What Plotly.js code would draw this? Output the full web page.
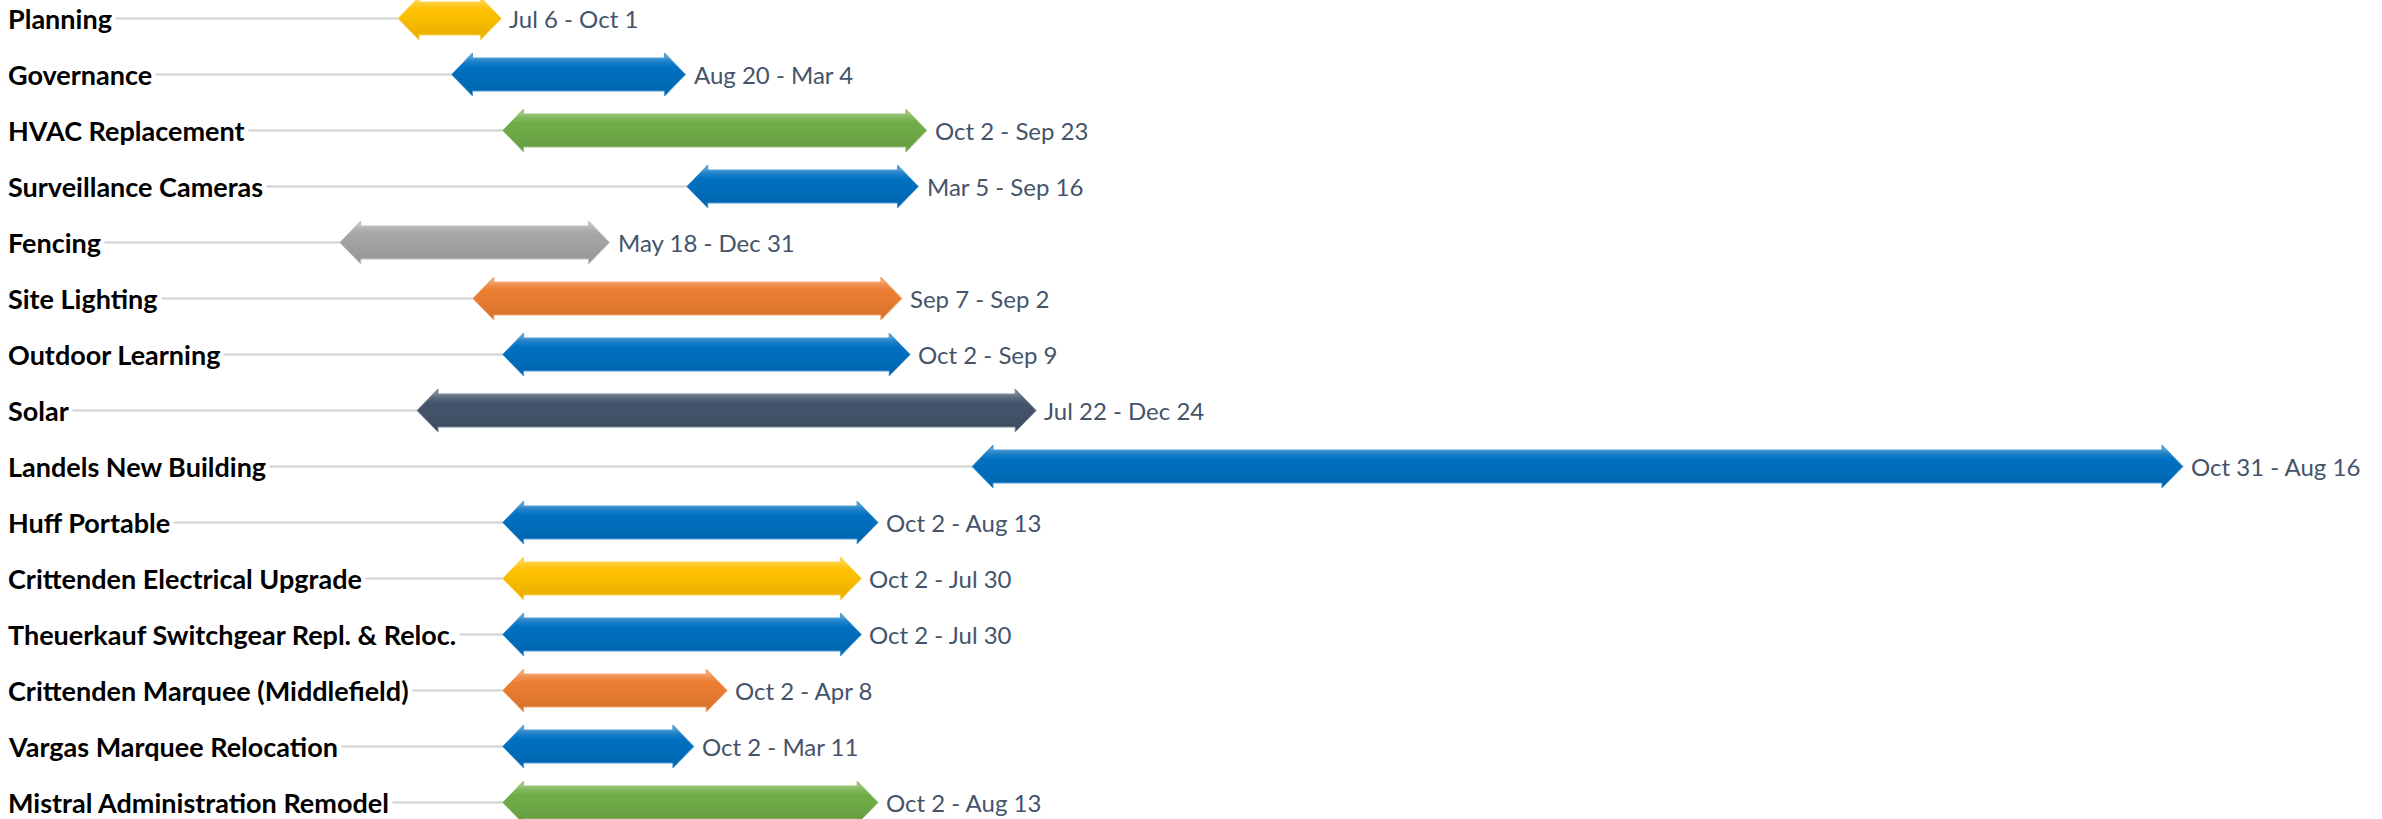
<!DOCTYPE html>
<html>
<head>
<meta charset="utf-8">
<script src="https://cdn.plot.ly/plotly-3.0.1.min.js"></script>
<style>html,body{margin:0;padding:0;background:#fff;}#chart{width:2382px;height:819px;}</style>
</head>
<body>
<div id="chart"></div>
<script>
// ---- data ----
const tasks = [
  "Planning", "Governance", "HVAC Replacement", "Surveillance Cameras", "Fencing",
  "Site Lighting", "Outdoor Learning", "Solar", "Landels New Building", "Huff Portable",
  "Crittenden Electrical Upgrade", "Theuerkauf Switchgear Repl. & Reloc.",
  "Crittenden Marquee (Middlefield)", "Vargas Marquee Relocation", "Mistral Administration Remodel"
];
const starts = [
  "2023-07-06", "2023-08-20", "2023-10-02", "2024-03-05", "2023-05-18",
  "2023-09-07", "2023-10-02", "2023-07-22", "2024-10-31", "2023-10-02",
  "2023-10-02", "2023-10-02", "2023-10-02", "2023-10-02", "2023-10-02"
];
const ends = [
  "2023-10-01", "2024-03-04", "2024-09-23", "2024-09-16", "2023-12-31",
  "2024-09-02", "2024-09-09", "2024-12-24", "2027-08-16", "2024-08-13",
  "2024-07-30", "2024-07-30", "2024-04-08", "2024-03-11", "2024-08-13"
];
const dateLabels = [
  "Jul 6 - Oct 1", "Aug 20 - Mar 4", "Oct 2 - Sep 23", "Mar 5 - Sep 16", "May 18 - Dec 31",
  "Sep 7 - Sep 2", "Oct 2 - Sep 9", "Jul 22 - Dec 24", "Oct 31 - Aug 16", "Oct 2 - Aug 13",
  "Oct 2 - Jul 30", "Oct 2 - Jul 30", "Oct 2 - Apr 8", "Oct 2 - Mar 11", "Oct 2 - Aug 13"
];
const barColors = [
  "#FFC000", "#0070C0", "#70AD47", "#0070C0", "#A5A5A5",
  "#ED7D31", "#0070C0", "#44546A", "#0070C0", "#0070C0",
  "#FFC000", "#0070C0", "#ED7D31", "#0070C0", "#70AD47"
];

// ---- geometry / style constants ----
const W = 2382, H = 819;
const DAY = 86400000;
const PX_PER_DAY = 1.1884;
const MS_PER_PX = DAY / PX_PER_DAY;
const ROW_PX = 56, FIRST_ROW_PX = 18.5;
const HEAD_LEN_PX = 21, HEAD_HALF_PX = 21.5, SHAFT_HALF_PX = 16.5;

const ms = s => new Date(s + "T00:00:00Z").getTime();
const fmt = m => { const d = new Date(m); return d.toISOString().replace("T", " ").replace("Z", ""); };

const xRange0 = ms("2023-07-06") - 398 * MS_PER_PX;
const xRange1 = xRange0 + W * MS_PER_PX;
const yTop = -FIRST_ROW_PX / ROW_PX;
const yBottom = yTop + H / ROW_PX;

function hexToRgb(h) { h = h.replace('#', ''); return [0, 2, 4].map(k => parseInt(h.substr(k, 2), 16)); }
function mix(h, target, t) {
  const c = hexToRgb(h);
  return 'rgb(' + c.map(v => Math.round(v + (target - v) * t)).join(',') + ')';
}

const traces = [];
// connector lines
const cx = [], cy = [];
tasks.forEach((t, i) => {
  cx.push(fmt(xRange0 + 6 * MS_PER_PX), starts[i], null);
  cy.push(i, i, null);
});
traces.push({ x: cx, y: cy, mode: 'lines', line: { color: '#D0D0D0', width: 2 }, hoverinfo: 'skip', showlegend: false });

// arrows
const hLen = HEAD_LEN_PX * MS_PER_PX;
const hh = HEAD_HALF_PX / ROW_PX, sh = SHAFT_HALF_PX / ROW_PX;
tasks.forEach((t, i) => {
  const s = ms(starts[i]), e = ms(ends[i]);
  const xs = [s, s + hLen, s + hLen, e - hLen, e - hLen, e, e - hLen, e - hLen, s + hLen, s + hLen, s].map(fmt);
  const ys = [i, i - hh, i - sh, i - sh, i - hh, i, i + hh, i + sh, i + sh, i + hh, i];
  const base = barColors[i];
  traces.push({
    x: xs, y: ys, mode: 'lines', fill: 'toself',
    fillcolor: base,
    fillgradient: {
      type: 'vertical', start: i + hh, stop: i - hh,
      colorscale: [
        [0, mix(base, 0, 0.12)],
        [0.12, mix(base, 0, 0.08)],
        [0.5, mix(base, 0, 0.02)],
        [0.68, base],
        [0.8, mix(base, 255, 0.12)],
        [0.86, mix(base, 255, 0.22)],
        [0.9, mix(base, 255, 0.32)],
        [1, mix(base, 255, 0.3)]
      ]
    },
    line: { color: mix(base, 255, 0.3), width: 1 },
    hoverinfo: 'skip', showlegend: false
  });
});

const annotations = [];
tasks.forEach((t, i) => {
  annotations.push({
    xref: 'paper', x: 0, xanchor: 'left', xshift: 4,
    yref: 'y', y: i, yanchor: 'middle',
    text: t, showarrow: false, bgcolor: '#ffffff', borderpad: 3,
    font: { family: 'Lato, "DejaVu Sans", sans-serif', size: 27, color: '#000000', weight: 700 }
  });
  annotations.push({
    xref: 'x', x: ends[i], xanchor: 'left', xshift: 6,
    yref: 'y', y: i, yanchor: 'middle',
    text: dateLabels[i], showarrow: false,
    font: { family: 'Lato, "DejaVu Sans", sans-serif', size: 24, color: '#44546A' }
  });
});

const layout = {
  width: W, height: H,
  margin: { l: 0, r: 0, t: 0, b: 0, pad: 0 },
  paper_bgcolor: '#ffffff', plot_bgcolor: '#ffffff',
  showlegend: false, hovermode: false,
  xaxis: { type: 'date', range: [fmt(xRange0), fmt(xRange1)], visible: false, fixedrange: true },
  yaxis: { range: [yBottom, yTop], visible: false, fixedrange: true },
  annotations: annotations
};

Plotly.newPlot('chart', traces, layout, { staticPlot: true, displayModeBar: false });
</script>
</body>
</html>
